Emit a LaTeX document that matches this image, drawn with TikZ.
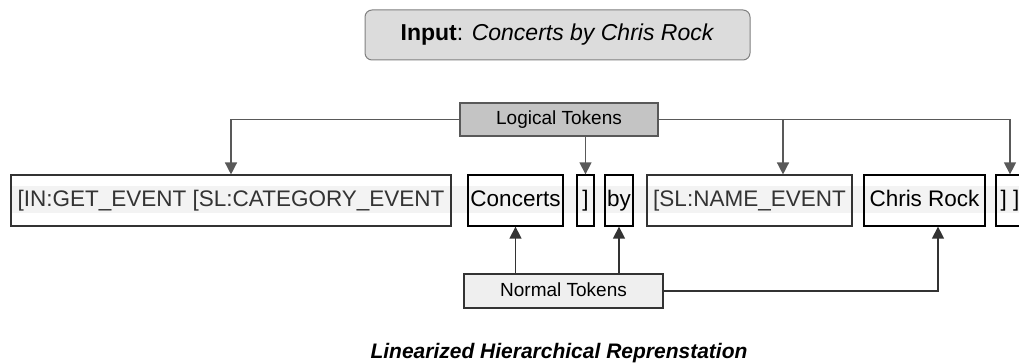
\documentclass[tikz,border=0pt]{standalone}
\usepackage{fontspec}
\setmainfont{Liberation Sans}
\usetikzlibrary{arrows.meta}
\definecolor{inputfill}{HTML}{DCDCDC}
\definecolor{logicfill}{HTML}{C4C4C4}
\definecolor{normalfill}{HTML}{EFEFEF}
\definecolor{stripfill}{HTML}{F3F3F3}
\definecolor{linegray}{HTML}{595959}
\definecolor{textgray}{HTML}{333333}
\begin{document}
\begin{tikzpicture}[x=1pt,y=-1pt,
  tok/.style={draw=black,line width=1.3pt,minimum height=51pt,inner sep=0pt,
    text height=17pt,text depth=5pt,font=\fontsize{22.5}{27}\selectfont},
  ltok/.style={tok,draw=textgray,line width=1.1pt,text=textgray},
  head/.style={draw=linegray,line width=1.1pt,minimum height=33pt,inner sep=0pt,
    text height=14pt,text depth=4pt,font=\fontsize{19}{23}\selectfont},
  larr/.style={draw=linegray,line width=1.4pt,-{Triangle[length=12pt,width=12pt]}},
  narr/.style={draw=textgray,line width=1.4pt,-{Triangle[length=12pt,width=12pt]}}]
\useasboundingbox (0,0) rectangle (1019,363);
\fill[stripfill] (11,186) rectangle (1019,213);
% input
\node[draw=gray,line width=1pt,fill=inputfill,rounded corners=7pt,minimum width=385pt,
  minimum height=50pt,font=\fontsize{23}{28}\selectfont] (input) at (557.5,35)
  {\textbf{Input}: \textit{Concerts by Chris Rock}};
% token row
\node[ltok,minimum width=440pt] (getevent) at (231,200.5) {[IN:GET\_EVENT [SL:CATEGORY\_EVENT};
\node[tok,minimum width=95pt] (concerts) at (515.5,200.5) {Concerts};
\node[tok,minimum width=17pt] (close) at (585.5,200.5) {]};
\node[tok,minimum width=28pt] (by) at (619,200.5) {by};
\node[ltok,minimum width=205pt] (nameevent) at (749.5,200.5) {[SL:NAME\_EVENT};
\node[tok,minimum width=121pt] (chrisrock) at (924.5,200.5) {Chris Rock};
\node[tok,minimum width=28pt] (closeclose) at (1010,200.5) {] ]};
% token kinds
\node[head,fill=logicfill,minimum width=198pt] (logical) at (559,119.5) {Logical Tokens};
\node[head,fill=normalfill,draw=textgray,minimum width=199pt,minimum height=34pt] (normal) at (563.5,291) {Normal Tokens};
\coordinate (namein) at ([xshift=33.5pt]nameevent.north);
\coordinate (chrisin) at ([xshift=13.5pt]chrisrock.south);
% arrows
\draw[larr] (logical.west) -| (getevent.north);
\draw[larr] (logical.south -| close.north) -- (close.north);
\draw[larr] (logical.east) -| (closeclose.north);
\draw[larr] (logical.east -| namein) -- (namein);
\draw[narr] (normal.north -| concerts.south) -- (concerts.south);
\draw[narr] (normal.north -| by.south) -- (by.south);
\draw[narr] (normal.east) -| (chrisin);
% caption
\node[anchor=base,font=\fontsize{21}{25}\selectfont\bfseries\itshape] (caption) at (559,358)
  {Linearized Hierarchical Reprenstation};
\end{tikzpicture}
\end{document}
